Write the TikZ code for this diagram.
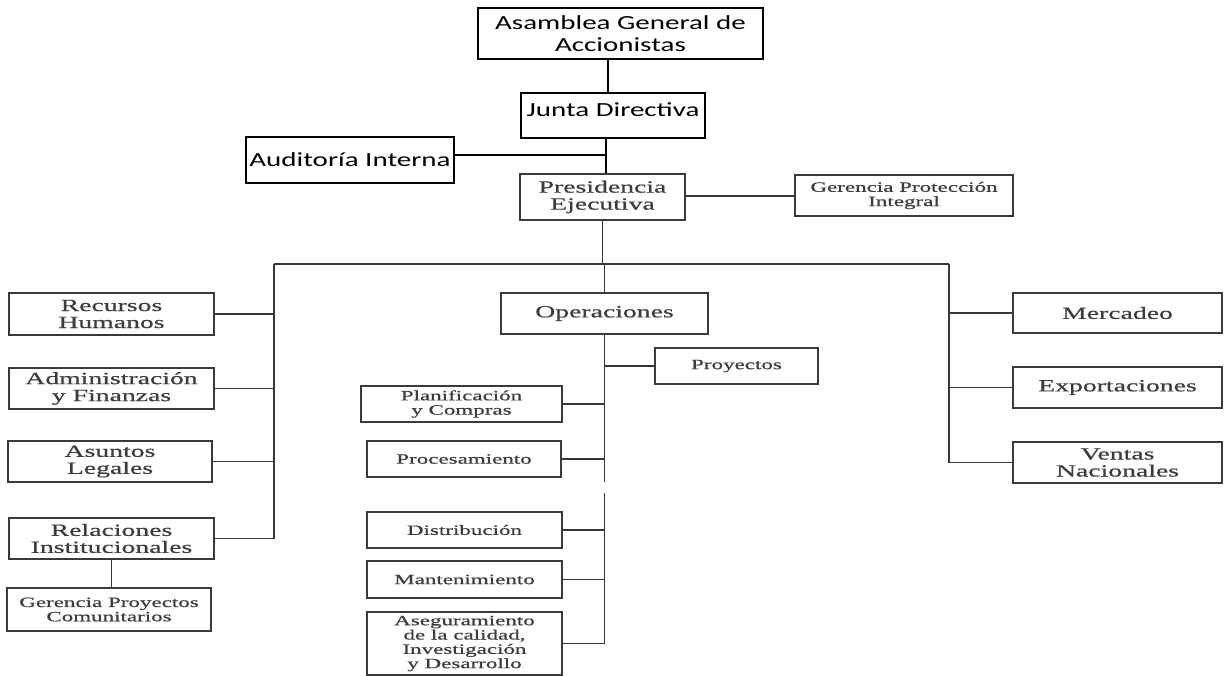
\documentclass[tikz,border=0pt]{standalone}
\usepackage{fontspec}
\newfontfamily\sansf[FakeStretch=1.45]{Carlito}
\newfontfamily\serff[FakeStretch=1.62,FakeBold=0.6]{Liberation Serif}
\definecolor{boxgray}{HTML}{3A3A3A}
\definecolor{txtgray}{HTML}{3C3C3C}
\definecolor{linegray}{HTML}{383838}
\tikzset{
  topbox/.style={draw=black, line width=1.4pt, inner sep=0pt, align=center, text=black,
    font=\sansf\fontsize{20}{21.5}\selectfont},
  bigbox/.style={draw=boxgray, line width=1.5pt, inner sep=0pt, align=center, text=txtgray,
    font=\serff\fontsize{17.1}{17}\selectfont},
  smallbox/.style={draw=boxgray, line width=1.5pt, inner sep=0pt, align=center, text=txtgray,
    font=\serff\fontsize{14.2}{14.3}\selectfont},
  topline/.style={draw=black, line width=1.4pt},
  conn/.style={draw=linegray, line width=1.5pt},
  sz/.style 2 args={minimum width=#1pt, minimum height=#2pt}
}
\begin{document}
\begin{tikzpicture}[x=1pt,y=-1pt]
\useasboundingbox (0,0) rectangle (1225,676);
\fill[white] (0,0) rectangle (1225,676);
\clip (0,0) rectangle (1225,676);

% top (sans) boxes
\node[topbox, sz={285}{51}] (asam) at (620.5,33.5) {Asamblea General de\\Accionistas};
\node[topbox, sz={184}{45}, text depth=11pt] (junta) at (613,115.5) {Junta Directiva};
\node[topbox, sz={208}{46}] (audit) at (350,160) {Auditoría Interna};

% serif boxes
\node[bigbox, sz={165}{46}] (pres) at (602.5,197) {Presidencia\\Ejecutiva};
\node[smallbox, sz={218}{41}] (gprot) at (904,195.5) {Gerencia Protección\\Integral};

\node[bigbox, sz={205}{42}] (rrhh) at (111.5,314) {Recursos\\Humanos};
\node[bigbox, sz={205}{41}] (admin) at (111.5,388.5) {Administración\\y Finanzas};
\node[bigbox, sz={204}{41}] (legal) at (110,461.5) {Asuntos\\Legales};
\node[bigbox, sz={205}{41}] (relac) at (111.5,538.5) {Relaciones\\Institucionales};
\node[smallbox, sz={204}{43}] (gproy) at (109,609.5) {Gerencia Proyectos\\Comunitarios};

\node[bigbox, sz={207}{41}] (oper) at (604.5,313.5) {Operaciones};
\node[smallbox, sz={163}{36}] (proy) at (736.5,366) {Proyectos};
\node[smallbox, sz={201}{36}] (plan) at (461.5,404) {Planificación\\y Compras};
\node[smallbox, sz={194}{36}] (proc) at (464,459) {Procesamiento};
\node[smallbox, sz={195}{36}] (dist) at (464.5,530) {Distribución};
\node[smallbox, sz={195}{37}] (mant) at (464.5,579.5) {Mantenimiento};
\node[smallbox, sz={195}{63}] (aseg) at (464.5,643.5) {Aseguramiento\\de la calidad,\\Investigación\\y Desarrollo};

\node[bigbox, sz={209}{40}] (merc) at (1117.5,313) {Mercadeo};
\node[bigbox, sz={209}{41}] (expo) at (1117.5,387.5) {Exportaciones};
\node[bigbox, sz={209}{41}] (vent) at (1117.5,462.5) {Ventas\\Nacionales};

% helper coordinates
\coordinate (c1) at (608,0);
\coordinate (c2) at (606,0);
\coordinate (audj) at (606,155);
\coordinate (gpj) at (0,196);
\coordinate (barL) at (274,264);
\coordinate (barR) at (949,264);
\coordinate (gapT) at (0,482);
\coordinate (gapB) at (0,493);

% top connectors
\draw[topline] (asam.south -| c1) -- (junta.north -| c1);
\draw[topline] (junta.south -| c2) -- (pres.north -| c2);
\draw[topline] (audit.east |- audj) -- (audj);
\draw[conn] (pres.east |- gpj) -- (gprot.west |- gpj);

% main bar
\draw[conn] (pres.south) -- (pres.south |- barL);
\draw[conn] (barL) -- (barR);
\draw[conn] (oper.north |- barL) -- (oper.north);

% left branch
\draw[conn] (barL) -- (barL |- relac.east);
\draw[conn] (rrhh.east) -- (rrhh.east -| barL);
\draw[conn] (admin.east) -- (admin.east -| barL);
\draw[conn] (legal.east) -- (legal.east -| barL);
\draw[conn] (relac.east) -- (relac.east -| barL);
\draw[conn] (relac.south) -- (relac.south |- gproy.north);

% right branch
\draw[conn] (barR) -- (barR |- vent.west);
\draw[conn] (merc.west) -- (merc.west -| barR);
\draw[conn] (expo.west) -- (expo.west -| barR);
\draw[conn] (vent.west) -- (vent.west -| barR);

% operations branch
\draw[conn] (oper.south) -- (oper.south |- gapT);
\draw[conn] (oper.south |- gapB) -- (oper.south |- aseg.east);
\draw[conn] (oper.south |- proy.west) -- (proy.west);
\draw[conn] (plan.east) -- (plan.east -| oper.south);
\draw[conn] (proc.east) -- (proc.east -| oper.south);
\draw[conn] (dist.east) -- (dist.east -| oper.south);
\draw[conn] (mant.east) -- (mant.east -| oper.south);
\draw[conn] (aseg.east) -- (aseg.east -| oper.south);
\end{tikzpicture}
\end{document}
